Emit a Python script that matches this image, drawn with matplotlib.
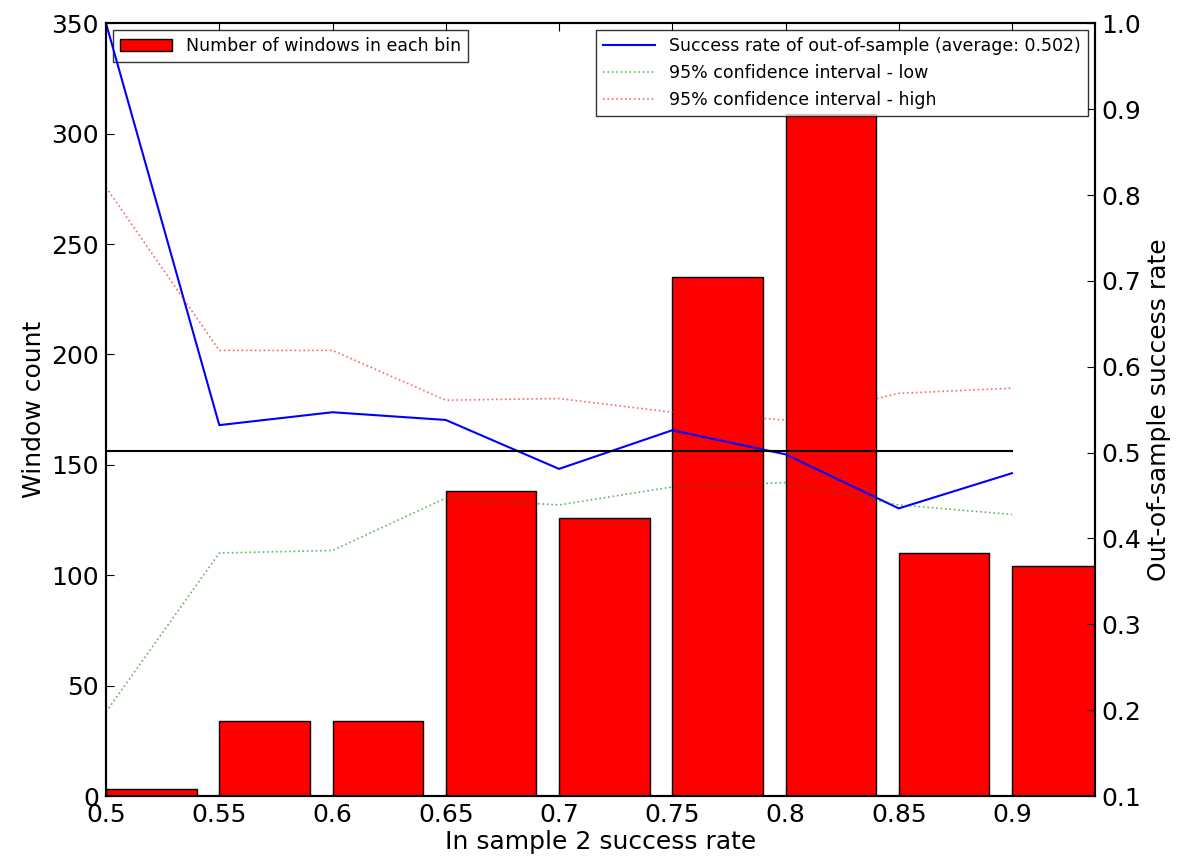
import matplotlib.pyplot as plt

# bins of in-sample success rate
bin_left = [0.5, 0.55, 0.6, 0.65, 0.7, 0.75, 0.8, 0.85, 0.9]
window_count = [3, 34, 34, 138, 126, 235, 309, 110, 104]

# out-of-sample success rate and 95% CI per bin
oos_rate = [1.0, 0.532, 0.547, 0.538, 0.481, 0.526, 0.498, 0.435, 0.476]
ci_low = [0.198, 0.383, 0.386, 0.447, 0.439, 0.460, 0.465, 0.439, 0.428]
ci_high = [0.809, 0.619, 0.619, 0.561, 0.563, 0.547, 0.538, 0.569, 0.575]
average = 0.502

fig, ax = plt.subplots(figsize=(11.86, 8.64), dpi=100)
fig.subplots_adjust(left=0.0894, right=0.923, top=0.973, bottom=0.0787)

ax.bar(bin_left, window_count, width=0.04, align='edge', color='red',
       edgecolor='black', linewidth=1, label='Number of windows in each bin')
ax.set_xlim(0.5, 0.9365)
ax.set_ylim(0, 350)
ax.set_xticks(bin_left)
ax.set_xticklabels(['0.5', '0.55', '0.6', '0.65', '0.7', '0.75', '0.8', '0.85', '0.9'])
ax.set_xlabel('In sample 2 success rate', fontsize=18, labelpad=2)
ax.set_ylabel('Window count', fontsize=18)
ax.tick_params(direction='in', labelsize=18, length=6, top=True, pad=5)
ax.legend(loc='upper left', fontsize=12.5, fancybox=False, edgecolor='black',
          handlelength=3, borderaxespad=0.4)

ax2 = ax.twinx()
ax2.plot(bin_left, oos_rate, 'b-', linewidth=1.5,
         label='Success rate of out-of-sample (average: %.3f)' % average)
ax2.plot(bin_left, ci_low, 'g:', linewidth=1.2, alpha=0.6,
         label='95% confidence interval - low')
ax2.plot(bin_left, ci_high, 'r:', linewidth=1.2, alpha=0.6,
         label='95% confidence interval - high')
ax2.plot([0.5, 0.9], [average, average], 'k-', linewidth=1.5)
ax2.set_ylim(0.1, 1.0)
ax2.set_yticks([0.1, 0.2, 0.3, 0.4, 0.5, 0.6, 0.7, 0.8, 0.9, 1.0])
ax2.set_ylabel('Out-of-sample success rate', fontsize=18)
ax2.tick_params(direction='in', labelsize=18, length=6, pad=5)
ax2.legend(loc='upper right', fontsize=12.5, fancybox=False, edgecolor='black',
           handlelength=3, borderaxespad=0.4)

for a in (ax, ax2):
    for s in a.spines.values():
        s.set_linewidth(1.5)

plt.savefig('out.png')
